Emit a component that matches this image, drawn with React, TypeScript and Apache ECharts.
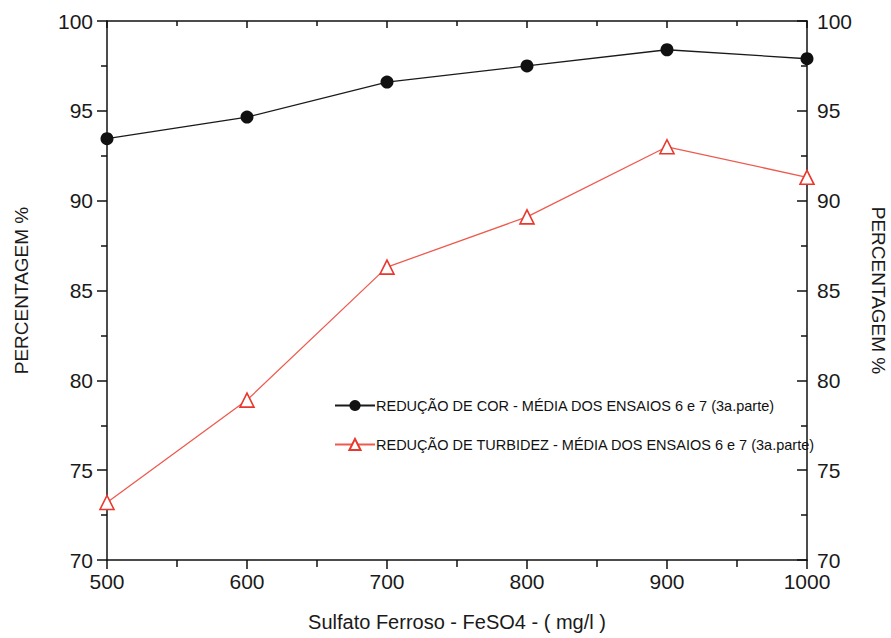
import React, { useEffect, useRef } from "react";
import * as echarts from "echarts";

const doses = [500, 600, 700, 800, 900, 1000];
const corValues = [93.45, 94.65, 96.6, 97.5, 98.4, 97.9];
const turbidezValues = [73.2, 78.9, 86.3, 89.1, 93.0, 91.3];
const corName = "REDUÇÃO DE COR - MÉDIA DOS ENSAIOS 6 e 7 (3a.parte)";
const turbName = "REDUÇÃO DE TURBIDEZ - MÉDIA DOS ENSAIOS 6 e 7 (3a.parte)";
const xTitle = "Sulfato Ferroso - FeSO4 - ( mg/l )";
const yTitle = "PERCENTAGEM %";

export default function App() {
  const ref = useRef<HTMLDivElement>(null);
  useEffect(() => {
    if (!ref.current) return;
    const chart = echarts.init(ref.current, undefined, { renderer: "svg" });
    const font = "'Liberation Sans', Arial, sans-serif";
    const axisLine = { show: true, lineStyle: { color: "#111", width: 1.5 } };
    const labelStyle = { color: "#1a1a1a", fontSize: 21, fontFamily: font };
    chart.setOption({
      animation: false,
      backgroundColor: "#fff",
      grid: { left: 107, right: 84, top: 21, bottom: 78, outerBoundsMode: "none", containLabel: false },
      legend: {
        orient: "vertical",
        left: 329,
        top: 393,
        itemWidth: 40,
        itemHeight: 14,
        itemGap: 24,
        textStyle: { fontSize: 14.5, fontFamily: font, color: "#111", padding: [0, 0, 0, -4] },
        data: [corName, turbName],
      },
      xAxis: [
        {
          type: "value",
          min: 500,
          max: 1000,
          interval: 100,
          position: "bottom",
          axisLine,
          axisTick: { show: true, inside: false, length: 9, lineStyle: { color: "#111", width: 1.5 } },
          minorTick: { show: true, splitNumber: 2, length: 7, lineStyle: { color: "#111", width: 1.5 } },
          axisLabel: { ...labelStyle, margin: 11, formatter: (v: number) => String(v) },
          splitLine: { show: false },
          name: xTitle,
          nameLocation: "middle",
          nameGap: 52,
          nameTextStyle: { fontSize: 20, fontFamily: font, color: "#1a1a1a" },
        },
        {
          type: "value",
          min: 500,
          max: 1000,
          interval: 100,
          position: "top",
          axisLine,
          axisTick: { show: true, inside: true, length: 7, lineStyle: { color: "#111", width: 1.5 } },
          minorTick: { show: true, splitNumber: 2, length: 5, lineStyle: { color: "#111", width: 1.5 } },
          axisLabel: { show: false },
          splitLine: { show: false },
        },
      ],
      yAxis: [
        {
          type: "value",
          min: 70,
          max: 100,
          interval: 5,
          position: "left",
          axisLine,
          axisTick: { show: true, inside: false, length: 10, lineStyle: { color: "#111", width: 1.5 } },
          minorTick: { show: true, splitNumber: 2, length: 6, lineStyle: { color: "#111", width: 1.5 } },
          axisLabel: { ...labelStyle, margin: 14 },
          splitLine: { show: false },
          name: yTitle,
          nameLocation: "middle",
          nameRotate: 90,
          nameGap: 76,
          nameTextStyle: { fontSize: 19, fontFamily: font, color: "#1a1a1a" },
        },
        {
          type: "value",
          min: 70,
          max: 100,
          interval: 5,
          position: "right",
          axisLine,
          axisTick: { show: true, inside: true, length: 10, lineStyle: { color: "#111", width: 1.5 } },
          minorTick: { show: true, splitNumber: 2, length: 6, lineStyle: { color: "#111", width: 1.5 } },
          axisLabel: { ...labelStyle, margin: 10 },
          splitLine: { show: false },
          name: yTitle,
          nameLocation: "middle",
          nameRotate: -90,
          nameGap: 62,
          nameTextStyle: { fontSize: 19, fontFamily: font, color: "#1a1a1a" },
        },
      ],
      series: [
        {
          name: corName,
          type: "line",
          xAxisIndex: 0,
          yAxisIndex: 0,
          data: doses.map((d, i) => [d, corValues[i]]),
          symbol: "circle",
          symbolSize: 13,
          lineStyle: { color: "#1a1a1a", width: 1.3 },
          itemStyle: { color: "#111" },
        },
        {
          name: turbName,
          type: "line",
          xAxisIndex: 0,
          yAxisIndex: 0,
          data: doses.map((d, i) => [d, turbidezValues[i]]),
          symbol: "triangle",
          symbolSize: 14,
          lineStyle: { color: "#ee5a4f", width: 1.3 },
          itemStyle: { color: "#ffffff", borderColor: "#e8372c", borderWidth: 1.6 },
        },
      ],
    });
    return () => chart.dispose();
  }, []);
  return <div ref={ref} style={{ width: 891, height: 638, position: "absolute", left: 0, top: 0 }} />;
}
